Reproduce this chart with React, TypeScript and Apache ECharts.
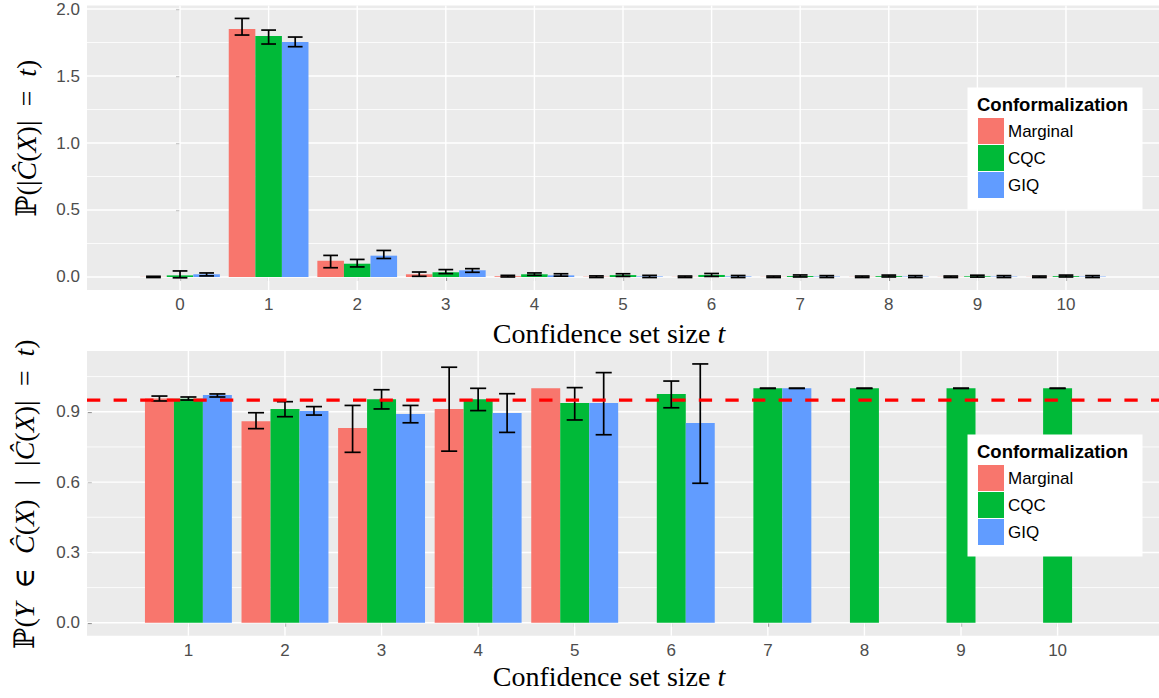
import React, { useEffect, useRef } from "react";
import * as echarts from "echarts";

// Conformalization methods and their fill colours
const methods = ["Marginal", "CQC", "GIQ"];
const methodColors = ["#F8766D", "#00BA38", "#619CFF"];

// Panel 1: probability of each confidence set size t
const sizeCategories = [0, 1, 2, 3, 4, 5, 6, 7, 8, 9, 10];
const sizeMarginal = [0.001, 1.851, 0.121, 0.02, 0.005, 0.002, 0.001, 0.001, 0.001, 0.001, 0.001];
const sizeMarginalLo = [-0.004, 1.806, 0.069, 0.005, 0.0, -0.004, -0.004, -0.004, -0.004, -0.004, -0.004];
const sizeMarginalHi = [0.005, 1.93, 0.161, 0.037, 0.012, 0.008, 0.007, 0.007, 0.007, 0.007, 0.007];
const sizeCQC = [0.012, 1.799, 0.099, 0.035, 0.02, 0.014, 0.015, 0.007, 0.006, 0.005, 0.006];
const sizeCQCLo = [-0.006, 1.739, 0.075, 0.025, 0.012, 0.004, 0.004, 0.0, 0.0, -0.001, 0.0];
const sizeCQCHi = [0.045, 1.843, 0.131, 0.055, 0.03, 0.024, 0.026, 0.015, 0.014, 0.013, 0.014];
const sizeGIQ = [0.02, 1.754, 0.159, 0.05, 0.012, 0.004, 0.004, 0.003, 0.003, 0.003, 0.003];
const sizeGIQLo = [0.008, 1.719, 0.138, 0.035, 0.006, -0.004, -0.004, -0.004, -0.004, -0.004, -0.004];
const sizeGIQHi = [0.03, 1.791, 0.198, 0.062, 0.024, 0.012, 0.011, 0.01, 0.01, 0.01, 0.01];
const sizeTicks = [0, 0.5, 1, 1.5, 2];
const sizeMinorTicks = [0.25, 0.75, 1.25, 1.75];

// Panel 2: coverage conditional on the set size
const coverageCategories = [1, 2, 3, 4, 5, 6, 7, 8, 9, 10];
const coverageMarginal = [0.957, 0.86, 0.831, 0.912, 1.0, null, null, null, null, null];
const coverageMarginalLo = [0.946, 0.828, 0.727, 0.732, null, null, null, null, null, null];
const coverageMarginalHi = [0.967, 0.896, 0.927, 1.09, null, null, null, null, null, null];
const coverageCQC = [0.956, 0.912, 0.953, 0.953, 0.937, 0.976, 1.0, 1.0, 1.0, 1.0];
const coverageCQCLo = [0.95, 0.879, 0.912, 0.905, 0.865, 0.917, 1.0, 1.0, 1.0, 1.0];
const coverageCQCHi = [0.963, 0.943, 0.994, 1.0, 1.003, 1.031, 1.0, 1.0, 1.0, 1.0];
const coverageGIQ = [0.971, 0.903, 0.89, 0.895, 0.937, 0.852, 1.0, null, null, null];
const coverageGIQLo = [0.963, 0.886, 0.853, 0.812, 0.802, 0.595, 1.0, null, null, null];
const coverageGIQHi = [0.976, 0.922, 0.927, 0.977, 1.067, 1.104, 1.0, null, null, null];
const coverageTicks = [0, 0.3, 0.6, 0.9];
const coverageMinorTicks = [0.15, 0.45, 0.75, 1.05];
const targetCoverage = 0.95;

const SANS = '"Liberation Sans", Arial, Helvetica, sans-serif';
const SERIF = '"Liberation Serif", "DejaVu Serif", serif';
const BAR_HALF = 0.15;
const CAP_HALF = 0.0833;
const DODGE = [-0.3, 0, 0.3];

type Num = number | null;

function barSeries(
  name: string,
  color: string,
  offset: number,
  cats: number[],
  vals: Num[],
  lo: Num[],
  hi: Num[],
  axis: number
) {
  const data: (number | null)[][] = [];
  cats.forEach((c, i) => {
    if (vals[i] != null) data.push([c, vals[i], lo[i], hi[i]]);
  });
  return {
    type: "custom",
    name,
    xAxisIndex: axis,
    yAxisIndex: axis,
    z: 2,
    itemStyle: { color },
    dimensions: ["t", "p", "lo", "hi"],
    encode: { x: 0, y: 1 },
    data,
    renderItem: (params: any, api: any) => {
      const x = api.value(0) + offset;
      const v = api.value(1);
      const l = api.value(2);
      const h = api.value(3);
      const tl = api.coord([x - BAR_HALF, v]);
      const br = api.coord([x + BAR_HALF, 0]);
      const children: any[] = [
        {
          type: "rect",
          shape: { x: tl[0], y: Math.min(tl[1], br[1]), width: br[0] - tl[0], height: Math.abs(br[1] - tl[1]) },
          style: { fill: color },
        },
      ];
      if (l != null && h != null && !isNaN(l) && !isNaN(h)) {
        const top = api.coord([x, h]);
        const bot = api.coord([x, l]);
        const cl = api.coord([x - CAP_HALF, h])[0];
        const cr = api.coord([x + CAP_HALF, h])[0];
        const es = { stroke: "#000", lineWidth: 1.7 };
        children.push(
          { type: "line", shape: { x1: top[0], y1: top[1], x2: bot[0], y2: bot[1] }, style: es },
          { type: "line", shape: { x1: cl, y1: top[1], x2: cr, y2: top[1] }, style: es },
          { type: "line", shape: { x1: cl, y1: bot[1], x2: cr, y2: bot[1] }, style: es }
        );
      }
      return { type: "group", children };
    },
  };
}

// White panel grid lines drawn through the axis scales
function gridLineSeries(axis: number, majorY: number[], minorY: number[], majorX: number[]) {
  const data = [
    ...majorY.map((v) => [v, 0]),
    ...minorY.map((v) => [v, 1]),
    ...majorX.map((v) => [v, 2]),
  ];
  return {
    type: "custom",
    xAxisIndex: axis,
    yAxisIndex: axis,
    silent: true,
    z: 1,
    data,
    renderItem: (params: any, api: any) => {
      const cs = params.coordSys;
      const val = api.value(0);
      const kind = api.value(1);
      if (kind === 2) {
        const x = api.coord([val, 0])[0];
        return {
          type: "line",
          shape: { x1: x, y1: cs.y, x2: x, y2: cs.y + cs.height },
          style: { stroke: "#FFFFFF", lineWidth: 1.4 },
        };
      }
      const y = api.coord([1, val])[1];
      return {
        type: "line",
        shape: { x1: cs.x, y1: y, x2: cs.x + cs.width, y2: y },
        style: { stroke: "#FFFFFF", lineWidth: kind === 0 ? 1.4 : 0.8 },
      };
    },
  };
}

function targetLineSeries(axis: number) {
  return {
    type: "custom",
    xAxisIndex: axis,
    yAxisIndex: axis,
    silent: true,
    z: 3,
    data: [[1, targetCoverage]],
    renderItem: (params: any, api: any) => {
      const cs = params.coordSys;
      const y = api.coord([1, api.value(1)])[1];
      return {
        type: "line",
        shape: { x1: cs.x, y1: y, x2: cs.x + cs.width, y2: y },
        style: { stroke: "#FF0000", lineWidth: 3.2, lineDash: [13.3, 13.3] },
      };
    },
  };
}

function xAxisFor(gridIndex: number, min: number, max: number, cats: number[]) {
  return {
    type: "value",
    gridIndex,
    min,
    max,
    axisLine: { show: false },
    splitLine: { show: false },
    axisTick: { show: true, customValues: cats, length: 4, lineStyle: { color: "#333333", width: 1.1 } },
    axisLabel: {
      customValues: cats,
      color: "#4D4D4D",
      fontSize: 17,
      fontFamily: SANS,
      margin: 6,
      formatter: (v: number) => String(v),
    },
  };
}

function yAxisFor(gridIndex: number, min: number, max: number, ticks: number[]) {
  return {
    type: "value",
    gridIndex,
    min,
    max,
    axisLine: { show: false },
    splitLine: { show: false },
    axisTick: { show: true, customValues: ticks, length: 4, lineStyle: { color: "#333333", width: 1.1 } },
    axisLabel: {
      customValues: ticks,
      color: "#4D4D4D",
      fontSize: 17,
      fontFamily: SANS,
      margin: 7,
      formatter: (v: number) => v.toFixed(1),
    },
  };
}

const titleRich = {
  r: { fontFamily: SERIF, fontSize: 28, fill: "#000" },
  i: { fontFamily: SERIF, fontSize: 28, fontStyle: "italic", fill: "#000" },
};

function axisTitle(text: string, x: number, y: number, rotated: boolean) {
  return {
    type: "text",
    x,
    y,
    rotation: rotated ? Math.PI / 2 : 0,
    z: 30,
    style: {
      text,
      rich: titleRich,
      align: "center",
      verticalAlign: "middle",
      textAlign: "center",
      textVerticalAlign: "middle",
    },
  };
}

function legendBox(top: number) {
  return [
    {
      type: "rect",
      z: 10,
      shape: { x: 967.5, y: top, width: 175, height: 122 },
      style: { fill: "#FFFFFF" },
    },
    {
      type: "text",
      z: 11,
      x: 977,
      y: top + 17,
      style: {
        text: "Conformalization",
        fontFamily: SANS,
        fontSize: 18.5,
        fontWeight: "bold",
        fill: "#000",
        verticalAlign: "middle",
        textVerticalAlign: "middle",
      },
    },
  ];
}

function legendFor(top: number) {
  return {
    data: methods,
    orient: "vertical",
    left: 978,
    top,
    padding: 0,
    itemWidth: 26,
    itemHeight: 26,
    itemGap: 1,
    icon: "rect",
    z: 20,
    selectedMode: false,
    textStyle: { color: "#000", fontSize: 17, fontFamily: SANS, padding: [0, 0, 0, -1] },
  };
}

export default function App() {
  const ref = useRef<HTMLDivElement>(null);

  useEffect(() => {
    if (!ref.current) return;
    const chart = echarts.init(ref.current, null, { renderer: "svg" });

    const sizeSets = [
      [sizeMarginal, sizeMarginalLo, sizeMarginalHi],
      [sizeCQC, sizeCQCLo, sizeCQCHi],
      [sizeGIQ, sizeGIQLo, sizeGIQHi],
    ];
    const coverageSets = [
      [coverageMarginal, coverageMarginalLo, coverageMarginalHi],
      [coverageCQC, coverageCQCLo, coverageCQCHi],
      [coverageGIQ, coverageGIQLo, coverageGIQHi],
    ];

    const series: any[] = [
      gridLineSeries(0, sizeTicks, sizeMinorTicks, sizeCategories),
      gridLineSeries(1, coverageTicks, coverageMinorTicks, coverageCategories),
    ];
    methods.forEach((m, k) => {
      const [v, lo, hi] = sizeSets[k];
      series.push(barSeries(m, methodColors[k], DODGE[k], sizeCategories, v, lo, hi, 0));
    });
    methods.forEach((m, k) => {
      const [v, lo, hi] = coverageSets[k];
      series.push(barSeries(m, methodColors[k], DODGE[k], coverageCategories, v, lo, hi, 1));
    });
    series.push(targetLineSeries(1));

    chart.setOption({
      animation: false,
      backgroundColor: "#FFFFFF",
      grid: [
        { left: 87, top: 5.5, width: 1076, height: 284.4, show: true, backgroundColor: "#EBEBEB", borderWidth: 0 },
        { left: 87, top: 351, width: 1076, height: 284.7, show: true, backgroundColor: "#EBEBEB", borderWidth: 0 },
      ],
      xAxis: [
        xAxisFor(0, -1.05, 11.05, sizeCategories),
        xAxisFor(1, -0.05, 11.05, coverageCategories),
      ],
      yAxis: [
        yAxisFor(0, -0.0965, 2.0265, sizeTicks),
        yAxisFor(1, -0.0552, 1.1592, coverageTicks),
      ],
      legend: [legendFor(118), legendFor(465)],
      graphic: [
        ...legendBox(87.5),
        ...legendBox(434.5),
        axisTitle("{r|Confidence set size }{i|t}", 609, 333, false),
        axisTitle("{r|Confidence set size }{i|t}", 609, 676, false),
        axisTitle("{r|ℙ(|}{i|Ĉ}{r|(}{i|X}{r|)|  =  }{i|t}{r|)}", 26, 138, true),
        axisTitle(
          "{r|ℙ(}{i|Y}{r|  ∈  }{i|Ĉ}{r|(}{i|X}{r|)  |  |}{i|Ĉ}{r|(}{i|X}{r|)|  =  }{i|t}{r|)}",
          24,
          494,
          true
        ),
      ],
      series,
    });

    return () => chart.dispose();
  }, []);

  return (
    <div
      ref={ref}
      style={{ position: "absolute", left: 0, top: 0, width: 1159, height: 698 }}
    />
  );
}
